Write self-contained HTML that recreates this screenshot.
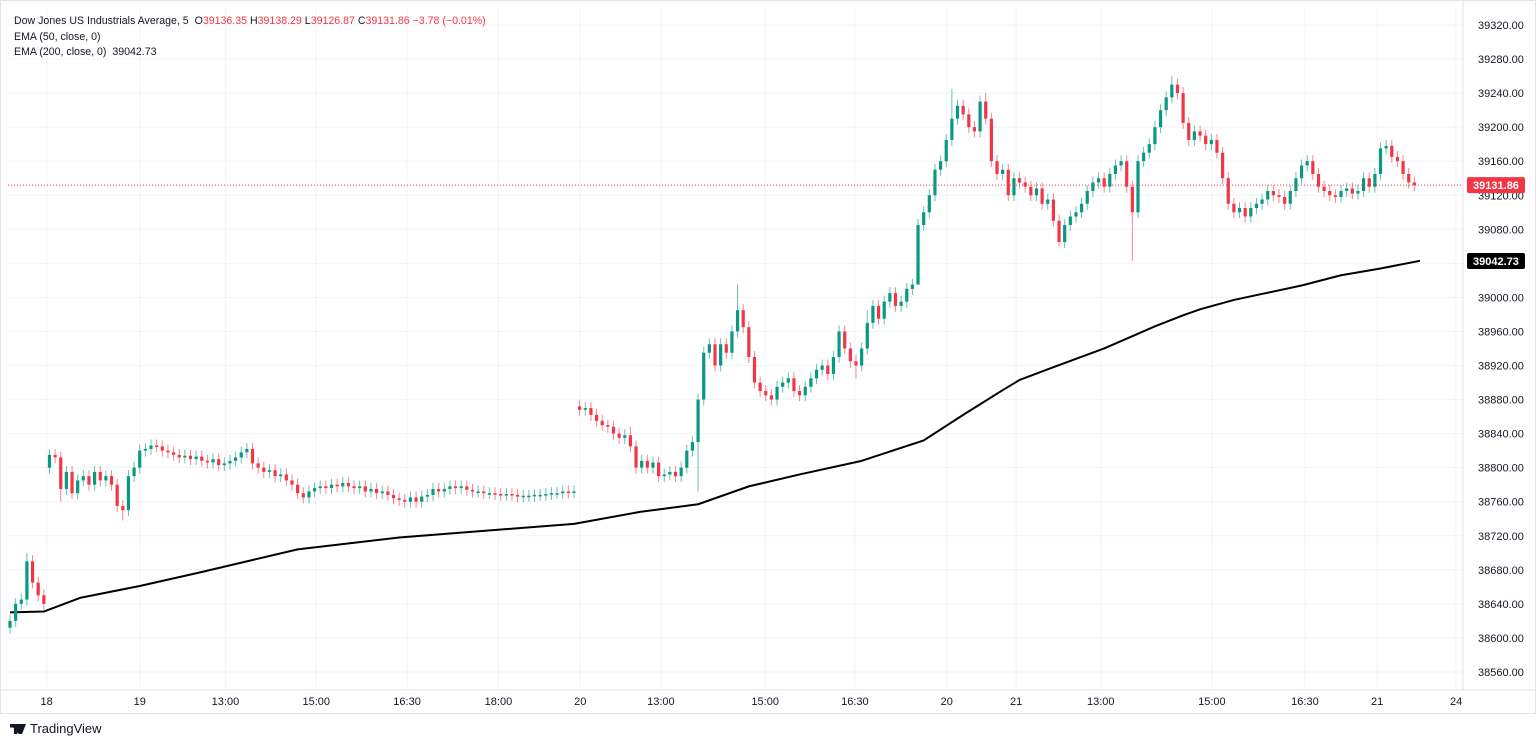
<!DOCTYPE html>
<html><head><meta charset="utf-8"><style>
body{margin:0;background:#fff;font-family:"Liberation Sans",sans-serif;}
#wrap{position:relative;width:1536px;height:744px;overflow:hidden;}
.hdr{position:absolute;left:14px;font-size:10.6px;color:#131722;}
.r{color:#f23645}
</style></head><body>
<div id="wrap">
<svg id="chart" width="1536" height="744"></svg>
<div class="hdr" style="top:15px">Dow Jones US Industrials Average, 5 &nbsp;<span>O</span><span class="r">39136.35</span> <span>H</span><span class="r">39138.29</span> <span>L</span><span class="r">39126.87</span> <span>C</span><span class="r">39131.86</span> <span class="r">−3.78 (−0.01%)</span></div>
<div class="hdr" style="top:31px">EMA (50, close, 0)</div>
<div class="hdr" style="top:46px">EMA (200, close, 0) &nbsp;39042.73</div>
<div style="position:absolute;left:10px;top:721px;font-size:13px;color:#131722;font-weight:bold"><span style="display:inline-block;width:16px;height:10px;background:#131722;margin-right:4px;vertical-align:-1px;clip-path:polygon(0 0,45% 0,45% 100%,25% 100%,25% 35%,0 35%,0 0,55% 0,100% 0,75% 100%,55% 100%)"></span><span style="font-weight:normal">TradingView</span></div>
</div>
<script>
const closes=[38620,38640,38645,38690,38665,38650,38640,
38815,38812,38775,38795,38770,38785,38790,38780,38795,38785,38790,38780,38755,38750,38790,38800,38820,38822,38826,38825,38820,38818,38815,38812,38814,38810,38813,38808,38806,38810,38803,38805,38808,38812,38818,38822,38805,38800,38795,38797,38790,38792,38785,38780,38770,38765,38772,38776,38778,38776,38780,38778,38782,38778,38776,38778,38772,38775,38770,38772,38768,38764,38762,38760,38765,38760,38766,38768,38775,38772,38775,38778,38776,38778,38774,38772,38772,38770,38770,38769,38768,38769,38768,38766,38767,38767,38768,38768,38769,38770,38770,38772,38771,38772,
38868,38870,38862,38855,38850,38848,38840,38835,38838,38825,38800,38808,38800,38806,38790,38792,38795,38790,38800,38820,38830,38880,38935,38945,38920,38945,38935,38960,38985,38965,38930,38900,38890,38885,38880,38895,38900,38905,38890,38885,38895,38905,38915,38920,38910,38930,38960,38940,38925,38920,38940,38970,38990,38975,38995,39005,38990,38995,39010,39015,39085,39100,39120,39150,39160,39185,39210,39225,39215,39200,39195,39230,39210,39160,39145,39150,39120,39140,39135,39130,39120,39128,39110,39115,39090,39065,39085,39095,39100,39110,39125,39135,39140,39130,39145,39155,39160,39130,39100,39160,39170,39180,39200,39220,39235,39250,39240,39205,39185,39195,39190,39180,39185,39170,39140,39110,39100,39105,39095,39105,39110,39115,39125,39120,39118,39110,39125,39140,39155,39160,39145,39130,39125,39120,39118,39125,39128,39122,39125,39140,39130,39145,39175,39178,39165,39160,39145,39135,39131.86];
const gapIdx=[0,7,101];
const gapOpens=[38612,38800,38872];
const extraLowIdx=[0,20,122,199,186,9,150,161];
const extraLowVals=[38605,38738,38772,39043,39060,38760,38905,39060];
const extraHighIdx=[3,129,167,206,173,152,110];
const extraHighVals=[38700,39015,39245,39260,39240,38985,38848];
const emaIdx=[0,6,12.4,23,33.7,51,69,100,111.7,122,131,140,151,162,169,176,179,185,194,203,208,211,217,229,236,243,250];
const emaVals=[38630,38631,38647,38661,38677,38704,38718,38734,38748,38757,38778,38792,38808,38832,38862,38891,38903,38918,38940,38966,38979,38986,38997,39014,39026,39034,39043];
const yTicks=[38560,38600,38640,38680,38720,38760,38800,38840,38880,38920,38960,39000,39040,39080,39120,39160,39200,39240,39280,39320];
const xLabels=["18","19","13:00","15:00","16:30","18:00","20","13:00","15:00","16:30","20","21","13:00","15:00","16:30","21","24"];
const xLabelIdx=[6.5,23,38.2,54.3,70.4,86.6,101.1,115.4,133.9,149.8,166.1,178.4,193.4,213.1,229.6,242.4,256.4];

const NS="http://www.w3.org/2000/svg";
const svg=document.getElementById('chart');
const PL=8,PR=1463,PT=8,PB=690;
const yS=p=>25+(39320-p)*34.05/40;
const xS=i=>10+i*5.64;
function mk(t,a,p){const e=document.createElementNS(NS,t);for(const k in a)e.setAttribute(k,a[k]);(p||svg).appendChild(e);return e;}
const grid=mk('g',{});
yTicks.forEach(v=>{
 const y=yS(v);
 const l=mk('line',{x1:PL,x2:PR,y1:y,y2:y,stroke:'#f0f3fa','stroke-width':1},grid);
 
 
 const t=mk('text',{x:1478,y:y+4,'font-size':11,fill:'#131722','font-family':'Liberation Sans'});
 t.textContent=v.toFixed(2);
 
 
});
xLabels.forEach((s,k)=>{
 const x=xS(xLabelIdx[k]);
 const l=mk('line',{x1:x,x2:x,y1:PT,y2:PB,stroke:'#f0f3fa','stroke-width':1},grid);
 
 
 const t=mk('text',{x:x,y:705,'font-size':11,fill:'#131722','text-anchor':'middle','font-family':'Liberation Sans'});
 t.textContent=s;
 
 
});
const ax=mk('line',{x1:PR,x2:PR,y1:0,y2:PB,stroke:'#e0e3eb'});


const bx=mk('line',{x1:0,x2:1536,y1:PB,y2:PB,stroke:'#e0e3eb'});


const frame=mk('rect',{x:0.5,y:0.5,width:1535,height:713,fill:'none',stroke:'#e0e3eb'});


// EMA
let d='';
emaIdx.forEach((i,k)=>{d+=(k?'L':'M')+xS(i)+' '+yS(emaVals[k]);});
const ema=mk('path',{d:d,fill:'none',stroke:'#000','stroke-width':2,'stroke-linejoin':'round'});


// candles
closes.forEach((c,i)=>{
 const g=gapIdx.indexOf(i);
 const o=g>=0?gapOpens[g]:closes[i-1];
 const up=c>=o;
 const col=up?'#089981':'#f23645';
 let hi=Math.max(o,c)+7,lo=Math.min(o,c)-7;
 const h=extraHighIdx.indexOf(i);if(h>=0)hi=extraHighVals[h];
 const lw=extraLowIdx.indexOf(i);if(lw>=0)lo=extraLowVals[lw];
 const x=xS(i);
 const w=mk('line',{x1:x,x2:x,y1:yS(hi),y2:yS(lo),stroke:col,'stroke-width':1,opacity:0.6});
 
 
 const yt=yS(Math.max(o,c)),yb=yS(Math.min(o,c));
 const b=mk('rect',{x:x-1.6,y:yt,width:3.2,height:Math.max(1.5,yb-yt),fill:col});
 
 
});
// last price line and labels
const last=closes[closes.length-1];
const pl=mk('line',{x1:PL,x2:PR,y1:yS(last),y2:yS(last),stroke:'#f23645','stroke-dasharray':'1 2','stroke-width':1});


function tag(v,bg,name){
 const y=yS(v);
 const r=mk('rect',{x:1467,y:y-8,width:58,height:16,rx:2,fill:bg});
 
 
 const t=mk('text',{x:1496,y:y+4,'font-size':11,fill:'#fff','text-anchor':'middle','font-weight':'bold','font-family':'Liberation Sans'});
 t.textContent=v.toFixed(2);
 
 
}
tag(last,'#f23645','last-price-label');
tag(emaVals[emaVals.length-1]-0.27,'#000','ema-value-label');
</script>
</body></html>
